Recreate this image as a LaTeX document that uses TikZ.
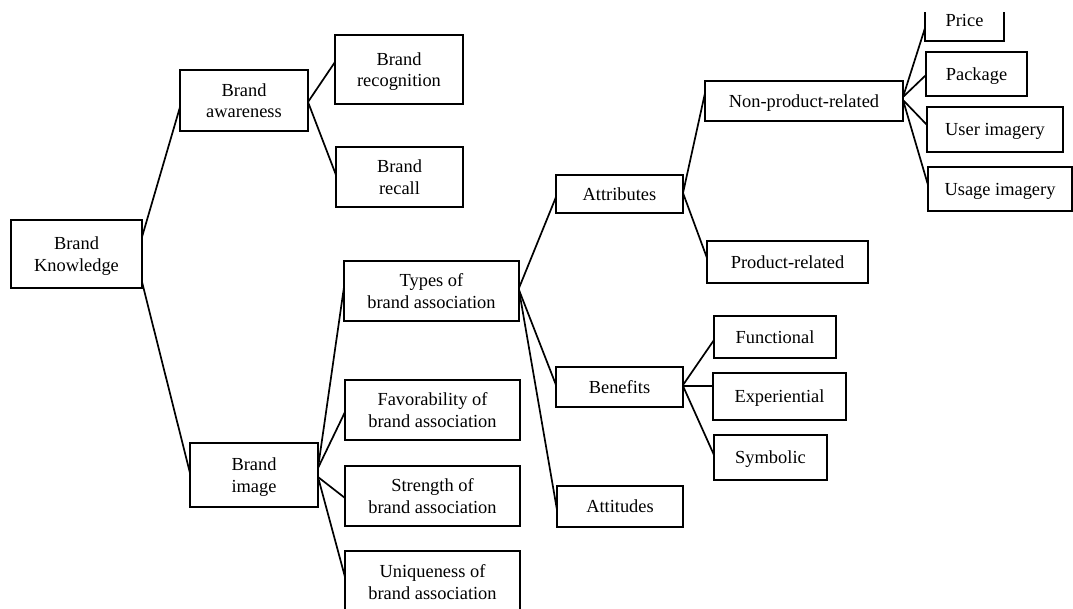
\documentclass[tikz,border=0pt]{standalone}
\usepackage{fontspec}
\setmainfont{Liberation Serif}
% box text: centred lines, set a little below the box centre
\newcommand{\boxtext}[1]{\raisebox{-2pt}[\height][\depth]{\begin{tabular}{@{}c@{}}#1\end{tabular}}}
\begin{document}
\begin{tikzpicture}[x=1pt,y=-1pt,
  box/.style={draw=black, line width=2.1pt, rectangle, inner sep=0pt, outer sep=0pt,
    font=\fontsize{18.4}{21.5}\selectfont},
  link/.style={draw=black, line width=1.7pt, line cap=round}]
\useasboundingbox (0,0) rectangle (1073,608);
\fill[white] (0,0) rectangle (1073,608);
\begin{scope}
\clip (0,0) rectangle (1073,608);

% level 0 and 1
\node[box, minimum width=131pt, minimum height=68pt] (bk)  at (76.5,254) {\boxtext{Brand\\Knowledge}};
\node[box, minimum width=128pt, minimum height=61pt] (aw)  at (244,100.5) {\boxtext{Brand\\awareness}};
\node[box, minimum width=128pt, minimum height=64pt] (img) at (254,475) {\boxtext{Brand\\image}};

% awareness branch
\node[box, minimum width=128pt, minimum height=69pt] (rec) at (399,69.5) {\boxtext{Brand\\recognition}};
\node[box, minimum width=127pt, minimum height=60pt] (rcl) at (399.5,177) {\boxtext{Brand\\recall}};

% image branch
\node[box, minimum width=175pt, minimum height=60pt] (types) at (431.5,291) {\boxtext{Types of\\brand association}};
\node[box, minimum width=175pt, minimum height=60pt] (fav)   at (432.5,410) {\boxtext{Favorability of\\brand association}};
\node[box, minimum width=175pt, minimum height=60pt] (str)   at (432.5,496) {\boxtext{Strength of\\brand association}};
\node[box, minimum width=175pt, minimum height=62pt] (uniq)  at (432.5,582) {\boxtext{Uniqueness of\\brand association}};

% types of association
\node[box, minimum width=127pt, minimum height=38pt] (attr) at (619.5,194) {\boxtext{Attributes}};
\node[box, minimum width=127pt, minimum height=40pt] (ben)  at (619.5,387) {\boxtext{Benefits}};
\node[box, minimum width=126pt, minimum height=41pt] (att)  at (620,506.5) {\boxtext{Attitudes}};

% attributes
\node[box, minimum width=198pt, minimum height=40pt] (non)  at (804,101) {\boxtext{Non-product-related}};
\node[box, minimum width=161pt, minimum height=42pt] (prod) at (787.5,262) {\boxtext{Product-related}};

% non-product-related attributes
\begin{scope}
\clip (0,12) rectangle (1073,608);
\node[box, minimum width=79pt, minimum height=42pt] (price) at (964.5,20) {\boxtext{Price}};
\end{scope}
\node[box, minimum width=101pt, minimum height=44pt] (pack)  at (976.5,74) {\boxtext{Package}};
\node[box, minimum width=136pt, minimum height=45pt] (user)  at (995,129.5) {\boxtext{User imagery}};
\node[box, minimum width=144pt, minimum height=44pt] (usage) at (1000,189) {\boxtext{Usage imagery}};

% benefits
\node[box, minimum width=122pt, minimum height=42pt] (func) at (775,337) {\boxtext{Functional}};
\node[box, minimum width=133pt, minimum height=47pt] (exp)  at (779.5,396.5) {\boxtext{Experiential}};
\node[box, minimum width=113pt, minimum height=45pt] (sym)  at (770.5,457.5) {\boxtext{Symbolic}};

% connectors
\draw[link] ([yshift=17pt]bk.east) -- ([yshift=-6.5pt]aw.west);
\draw[link] ([yshift=-28pt]bk.east) -- ([yshift=2pt]img.west);

\draw[link] ([yshift=-1.5pt]aw.east) -- ([yshift=7.5pt]rec.west);
\draw[link] ([yshift=-1.5pt]aw.east) -- ([yshift=2pt]rcl.west);

\draw[link] ([yshift=7pt]img.east) -- ([yshift=4pt]types.west);
\draw[link] ([yshift=7pt]img.east) -- ([yshift=-2pt]fav.west);
\draw[link] ([yshift=-2pt]img.east) -- ([yshift=-2pt]str.west);
\draw[link] ([yshift=-2pt]img.east) -- ([yshift=5pt]uniq.west);

\draw[link] ([yshift=3pt]types.east) -- ([yshift=-3pt]attr.west);
\draw[link] ([yshift=1pt]types.east) -- ([yshift=2pt]ben.west);
\draw[link] ([yshift=1pt]types.east) -- ([yshift=-3.5pt]att.west);

\draw[link] ([yshift=1pt]attr.east) -- ([yshift=8pt]non.west);
\draw[link] ([yshift=1pt]attr.east) -- ([yshift=4pt]prod.west);

\draw[link] ([yshift=4pt]non.east) -- ([yshift=-8pt]price.west);
\draw[link] ([yshift=4pt]non.east) -- ([yshift=-1pt]pack.west);
\draw[link] ([yshift=1pt]non.east) -- ([yshift=4.5pt]user.west);
\draw[link] ([yshift=1pt]non.east) -- ([yshift=4pt]usage.west);

\draw[link] ([yshift=2pt]ben.east) -- ([yshift=-3pt]func.west);
\draw[link] ([yshift=1pt]ben.east) -- ([yshift=10.5pt]exp.west);
\draw[link] ([yshift=1pt]ben.east) -- ([yshift=2.5pt]sym.west);
\end{scope}
\end{tikzpicture}
\end{document}
